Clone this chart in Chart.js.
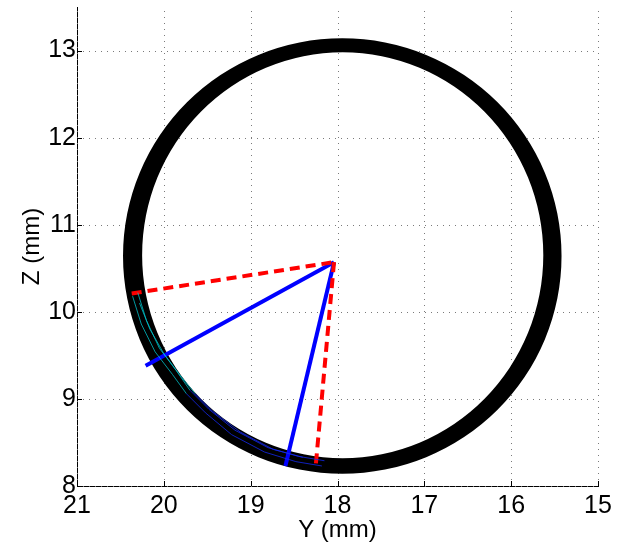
<!DOCTYPE html>
<html>
<head>
<meta charset="utf-8">
<script src="https://cdn.jsdelivr.net/npm/chart.js"></script>
<style>
  body { margin: 0; background: #fff; }
</style>
</head>
<body>
<canvas id="myChart" width="618" height="551"></canvas>
<script>
    // axis ticks
    var yTickValues = [21, 20, 19, 18, 17, 16, 15];
    var zTickValues = [8, 9, 10, 11, 12, 13];

    // ring (band of overlapping circles), centre and radii in mm
    var ringOuter = [17.945, 10.64, 2.525, 2.50];   // centre Y, centre Z, radius Y, radius Z
    var ringInner = [17.94, 10.65, 2.31, 2.33];

    // red dashed lines
    var redA_Y = [20.37, 18.04], redA_Z = [10.21, 10.57];
    var redB_Y = [18.04, 18.25], redB_Z = [10.57, 8.24];

    // blue lines
    var blueA_Y = [18.04, 20.21], blueA_Z = [10.57, 9.38];
    var blueB_Y = [18.04, 18.60], blueB_Z = [10.57, 8.23];

    // thin traces inside the ring
    var trace1_Y = [20.30, 20.20, 20.05, 19.86, 19.70, 19.48, 19.18, 18.80, 18.45, 18.15];
    var trace1_Z = [10.22, 9.90, 9.58, 9.33, 9.10, 8.88, 8.64, 8.44, 8.34, 8.29];
    var trace2_Y = [20.36, 20.26, 20.10, 19.90, 19.74, 19.52, 19.22, 18.84, 18.48, 18.18];
    var trace2_Z = [10.18, 9.86, 9.54, 9.28, 9.06, 8.84, 8.59, 8.39, 8.28, 8.23];
    var trace3_Y = [20.28, 20.16, 20.00, 19.82, 19.64, 19.44, 19.12, 18.74, 18.40];
    var trace3_Z = [10.10, 9.80, 9.52, 9.28, 9.06, 8.86, 8.62, 8.42, 8.33];

    var pts = (ys, zs) => ys.map((v, i) => ({ x: v, y: zs[i] }));

    var traceSet = (ys, zs) => ({
        data: pts(ys, zs),
        showLine: true,
        pointRadius: 0,
        borderWidth: 1,
        segment: {
            borderColor: ctx => ctx.p0.parsed.y > 9.2 ? 'rgba(0,200,210,0.75)' : 'rgba(20,40,235,0.8)'
        }
    });

    var gridAndRing = {
        id: 'gridAndRing',
        beforeDatasetsDraw: chart => {
            var ctx = chart.ctx, xs = chart.scales.x, ys = chart.scales.y, a = chart.chartArea;
            ctx.save();
            // dotted grid
            ctx.strokeStyle = '#7a7a7a';
            ctx.lineWidth = 1;
            ctx.setLineDash([1, 5]);
            yTickValues.forEach(v => {
                var px = Math.round(xs.getPixelForValue(v)) + 0.5;
                ctx.beginPath(); ctx.moveTo(px, a.bottom); ctx.lineTo(px, a.top); ctx.stroke();
            });
            zTickValues.forEach(v => {
                var py = Math.round(ys.getPixelForValue(v)) + 0.5;
                ctx.beginPath(); ctx.moveTo(a.left, py); ctx.lineTo(a.right, py); ctx.stroke();
            });
            // inward tick marks
            ctx.setLineDash([]);
            ctx.strokeStyle = '#000';
            yTickValues.forEach(v => {
                var px = Math.round(xs.getPixelForValue(v)) + 0.5;
                ctx.beginPath(); ctx.moveTo(px, a.bottom); ctx.lineTo(px, a.bottom - 5); ctx.stroke();
            });
            zTickValues.forEach(v => {
                var py = Math.round(ys.getPixelForValue(v)) + 0.5;
                ctx.beginPath(); ctx.moveTo(a.left, py); ctx.lineTo(a.left + 5, py); ctx.stroke();
            });
            // black ring
            var ell = r => {
                var cx = xs.getPixelForValue(r[0]), cy = ys.getPixelForValue(r[1]);
                var rx = Math.abs(xs.getPixelForValue(r[0] + r[2]) - cx);
                var ry = Math.abs(ys.getPixelForValue(r[1] + r[3]) - cy);
                ctx.moveTo(cx + rx, cy);
                ctx.ellipse(cx, cy, rx, ry, 0, 0, Math.PI * 2);
            };
            ctx.beginPath();
            ell(ringOuter);
            ell(ringInner);
            ctx.fillStyle = '#000';
            ctx.fill('evenodd');
            ctx.restore();
        }
    };

    var ctx = document.getElementById('myChart').getContext('2d');
    var chart = new Chart(ctx, {
        type: 'scatter',
        data: {
            datasets: [
                traceSet(trace1_Y, trace1_Z),
                traceSet(trace2_Y, trace2_Z),
                traceSet(trace3_Y, trace3_Z),
                { data: pts(redA_Y, redA_Z), showLine: true, pointRadius: 0, borderColor: '#ff0000', borderWidth: 4, borderDash: [10, 6] },
                { data: pts(redB_Y, redB_Z), showLine: true, pointRadius: 0, borderColor: '#ff0000', borderWidth: 4, borderDash: [10, 6] },
                { data: pts(blueA_Y, blueA_Z), showLine: true, pointRadius: 0, borderColor: '#0000ff', borderWidth: 4 },
                { data: pts(blueB_Y, blueB_Z), showLine: true, pointRadius: 0, borderColor: '#0000ff', borderWidth: 4 }
            ]
        },
        options: {
            responsive: false,
            animation: false,
            layout: { padding: { top: 7, right: 20, left: 0, bottom: 0 } },
            plugins: { legend: { display: false }, tooltip: { enabled: false } },
            scales: {
                x: {
                    type: 'linear', min: 15, max: 21, reverse: true,
                    afterBuildTicks: s => { s.ticks = yTickValues.map(v => ({ value: v })); },
                    afterFit: s => { s.height = 65; s.paddingLeft = 0; s.paddingRight = 0; },
                    grid: { display: false, drawTicks: false },
                    border: { display: true, color: '#000', width: 1 },
                    ticks: { color: '#000', padding: 5, font: { family: 'Liberation Sans', size: 25 }, maxRotation: 0 },
                    title: { display: true, text: 'Y (mm)', color: '#000', padding: { top: 0, bottom: 6 }, font: { family: 'Liberation Sans', size: 24 } }
                },
                y: {
                    type: 'linear', min: 8, max: 13.5,
                    afterBuildTicks: s => { s.ticks = zTickValues.map(v => ({ value: v })); },
                    afterFit: s => { s.width = 77; s.paddingTop = 0; s.paddingBottom = 0; },
                    grid: { display: false, drawTicks: false },
                    border: { display: true, color: '#000', width: 1 },
                    ticks: { color: '#000', padding: 1, font: { family: 'Liberation Sans', size: 25 } },
                    title: { display: true, text: 'Z (mm)', color: '#000', padding: { top: 18, bottom: 0 }, font: { family: 'Liberation Sans', size: 24 } }
                }
            }
        },
        plugins: [gridAndRing]
    });
</script>
</body>
</html>
